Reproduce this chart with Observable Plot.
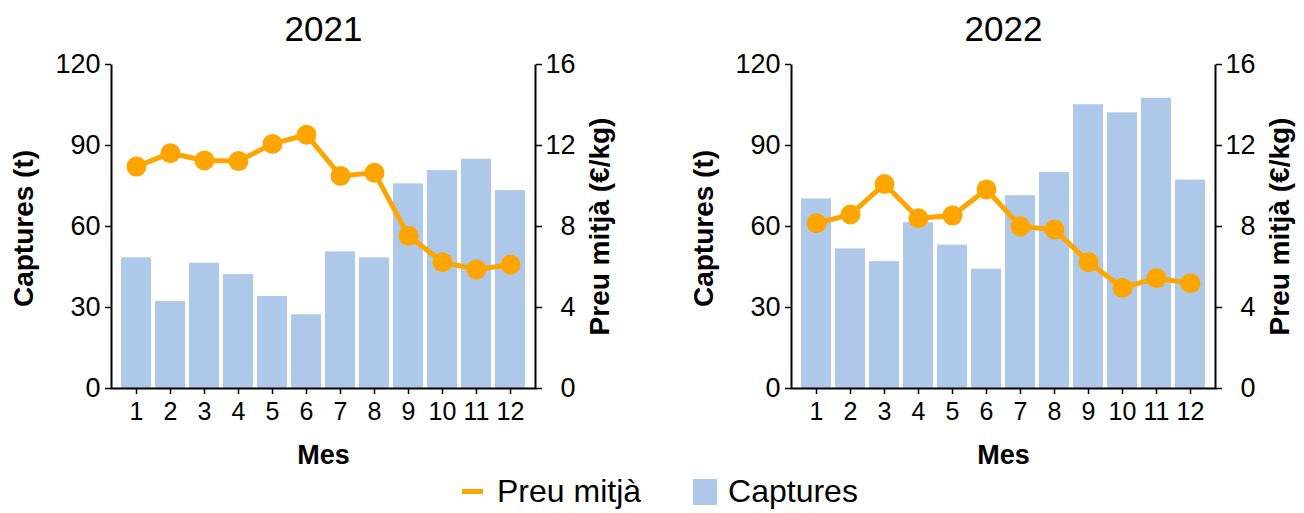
<!DOCTYPE html>
<html><head><meta charset="utf-8">
<script src="https://cdn.jsdelivr.net/npm/d3@7"></script>
<script src="https://cdn.jsdelivr.net/npm/@observablehq/plot@0.6"></script>
<style>
body{margin:0;background:#fff;font-family:"Liberation Sans",Arial,sans-serif;}
#wrap{position:relative;width:1304px;height:513px;overflow:hidden;background:#fff}
.panel{position:absolute;top:0}
#legend{position:absolute;left:462px;top:470px;height:43px;display:flex;align-items:center;font-size:32px;color:#000;white-space:nowrap}
.sw-line{display:inline-block;width:21px;height:5px;background:#FFA500;margin-right:14px}
.sw-box{display:inline-block;width:24px;height:26px;background:#aec8e9;margin-left:52px;margin-right:11px}
</style></head><body>
<div id="wrap">
  <div id="p1" class="panel" style="left:0"></div>
  <div id="p2" class="panel" style="left:680px"></div>
  <div id="legend"><span class="sw-line"></span><span>Preu mitjà</span><span class="sw-box"></span><span>Captures</span></div>
</div>
<script>
const months = [1, 2, 3, 4, 5, 6, 7, 8, 9, 10, 11, 12];
const years = ["2021", "2022"];
const captures2021 = [48.4, 32.2, 46.4, 42.2, 34.1, 27.3, 50.6, 48.4, 75.8, 80.7, 84.9, 73.3];
const price2021 = [10.96, 11.62, 11.26, 11.23, 12.08, 12.53, 10.5, 10.65, 7.54, 6.24, 5.88, 6.11];
const captures2022 = [70.2, 51.7, 47.0, 61.4, 53.1, 44.2, 71.4, 80.0, 105.1, 102.1, 107.5, 77.2];
const price2022 = [8.16, 8.59, 10.1, 8.41, 8.54, 9.83, 8.0, 7.85, 6.24, 4.97, 5.45, 5.2];
const capturesTicks = [0, 30, 60, 90, 120];
const priceTicks = [0, 4, 8, 12, 16];
const xLabel = "Mes";
const yLabelLeft = "Captures (t)";
const yLabelRight = "Preu mitjà (€/kg)";

const ratio = capturesTicks[capturesTicks.length - 1] / priceTicks[priceTicks.length - 1];

const W = 624, H = 470, mL = 111, mR = 89, mT = 64, mB = 82;
const fw = W - mL - mR, fh = H - mT - mB;

function panel(year, caps, prices) {
  const data = months.map((m, i) => ({month: m, captures: caps[i], price: prices[i]}));
  return Plot.plot({
    width: W, height: H,
    marginLeft: mL, marginRight: mR, marginTop: mT, marginBottom: mB,
    style: {fontFamily: "'Liberation Sans', Arial, sans-serif", fontSize: "26px", color: "#000", background: "#fff", overflow: "visible"},
    x: {type: "band", domain: months, padding: 0, insetLeft: 8, insetRight: 8},
    y: {domain: [0, capturesTicks[capturesTicks.length - 1]]},
    marks: [
      Plot.barY(data, {x: "month", y: "captures", fill: "#aec8e9", insetLeft: 2, insetRight: 2}),
      Plot.line(data, {x: "month", y: d => d.price * ratio, stroke: "#FFA500", strokeWidth: 5}),
      Plot.dot(data, {x: "month", y: d => d.price * ratio, r: 10, fill: "#FFA500"}),
      Plot.frame({stroke: "#000", strokeWidth: 2, strokeDasharray: `0 ${fw} ${fw + 2 * fh}`}),
      Plot.axisX({tickSize: 6, tickPadding: 8, fontSize: 25, label: null, strokeWidth: 1.5}),
      Plot.axisY({anchor: "left", ticks: capturesTicks, tickSize: 6, tickPadding: 5, fontSize: 27, label: null, strokeWidth: 1.5}),
      Plot.axisY({anchor: "right", ticks: capturesTicks, tickFormat: d => d / ratio, tickSize: 6, tickPadding: 34, textAnchor: "end", fontSize: 27, label: null, strokeWidth: 1.5}),
      Plot.text([year], {frameAnchor: "top", dy: -35, fontSize: 35, lineAnchor: "middle"}),
      Plot.text([xLabel], {frameAnchor: "bottom", dy: 67, fontSize: 27, fontWeight: "bold", lineAnchor: "middle"}),
      Plot.text([yLabelLeft], {frameAnchor: "left", dx: -87, dy: 2, rotate: -90, textAnchor: "middle", fontSize: 28, fontWeight: "bold", lineAnchor: "middle"}),
      Plot.text([yLabelRight], {frameAnchor: "right", dx: 65, rotate: -90, textAnchor: "middle", fontSize: 28, fontWeight: "bold", lineAnchor: "middle"})
    ]
  });
}

document.getElementById("p1").append(panel(years[0], captures2021, price2021));
document.getElementById("p2").append(panel(years[1], captures2022, price2022));
</script>
</body></html>
